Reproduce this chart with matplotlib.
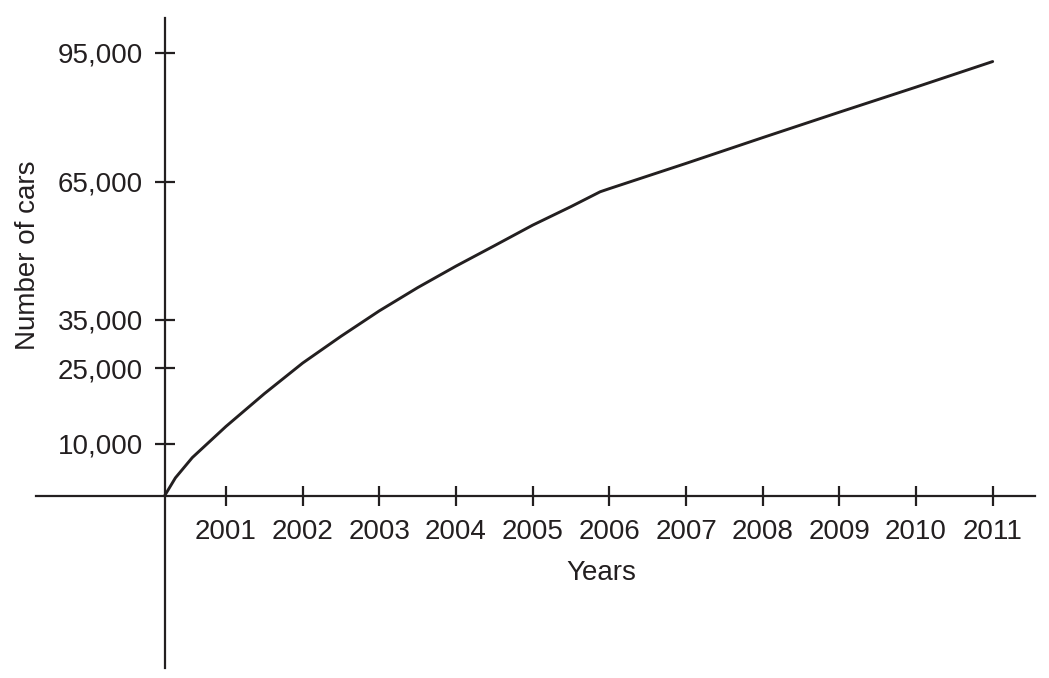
import matplotlib
matplotlib.use("Agg")
import matplotlib.pyplot as plt
import numpy as np

# values
years = [2000.2, 2000.34, 2000.56, 2001, 2001.5, 2002, 2002.5, 2003, 2003.5,
         2004, 2004.5, 2005, 2005.5, 2005.88, 2006, 2007, 2008, 2009, 2010, 2011]
cars = [0, 3400, 7300, 13400, 19900, 26100, 31600, 36900, 41800,
        46400, 50800, 55300, 59400, 62700, 63400, 69100, 75000, 80900, 86800, 92900]
year_ticks = [2001, 2002, 2003, 2004, 2005, 2006, 2007, 2008, 2009, 2010, 2011]
car_ticks = [10000, 25000, 35000, 65000, 95000]
car_labels = [f"{v:,}" for v in car_ticks]

INK = "#231f20"
plt.rcParams['font.family'] = ['Liberation Sans', 'DejaVu Sans']

fig = plt.figure(figsize=(10.49, 6.78), dpi=100)
ax = fig.add_axes([35.7 / 1049, 10 / 678, 999.3 / 1049, 650 / 678])

# the printed y axis is not evenly spaced, it compresses slowly upwards
c = 350000
ax.set_yscale('function', functions=(lambda v: np.log1p(v / c),
                                     lambda u: c * np.expm1(u)))

ax.plot(years, cars, color=INK, linewidth=2.1, solid_joinstyle='round',
        solid_capstyle='round')

ax.set_xlim(1998.518, 2011.552)
ax.set_ylim(-31217, 103478)

for side in ['top', 'right']:
    ax.spines[side].set_visible(False)
ax.spines['left'].set_position(('data', 2000.2))
ax.spines['bottom'].set_position(('data', 0))
for side in ['left', 'bottom']:
    ax.spines[side].set_linewidth(1.6)
    ax.spines[side].set_color(INK)

ax.set_xticks(year_ticks)
ax.set_xticklabels([str(y) for y in year_ticks])
ax.set_yticks(car_ticks)
ax.set_yticklabels(car_labels)
ax.minorticks_off()

ax.tick_params(axis='x', direction='inout', length=14.4, width=1.6, color=INK,
               labelsize=20, labelcolor=INK, pad=9.5)
ax.tick_params(axis='y', direction='inout', length=14.4, width=1.6, color=INK,
               labelsize=20, labelcolor=INK, pad=8.3)

ax.set_xlabel('Years', fontsize=20, color=INK, va='baseline', ha='center')
ax.xaxis.set_label_coords(601 / 1049, 1 - 580 / 678, transform=fig.transFigure)
ax.set_ylabel('Number of cars', fontsize=20, color=INK, va='baseline', ha='center')
ax.yaxis.set_label_coords(35 / 1049, 1 - 255 / 678, transform=fig.transFigure)

ax.patch.set_alpha(0)
fig.savefig('out.png', dpi=100)
